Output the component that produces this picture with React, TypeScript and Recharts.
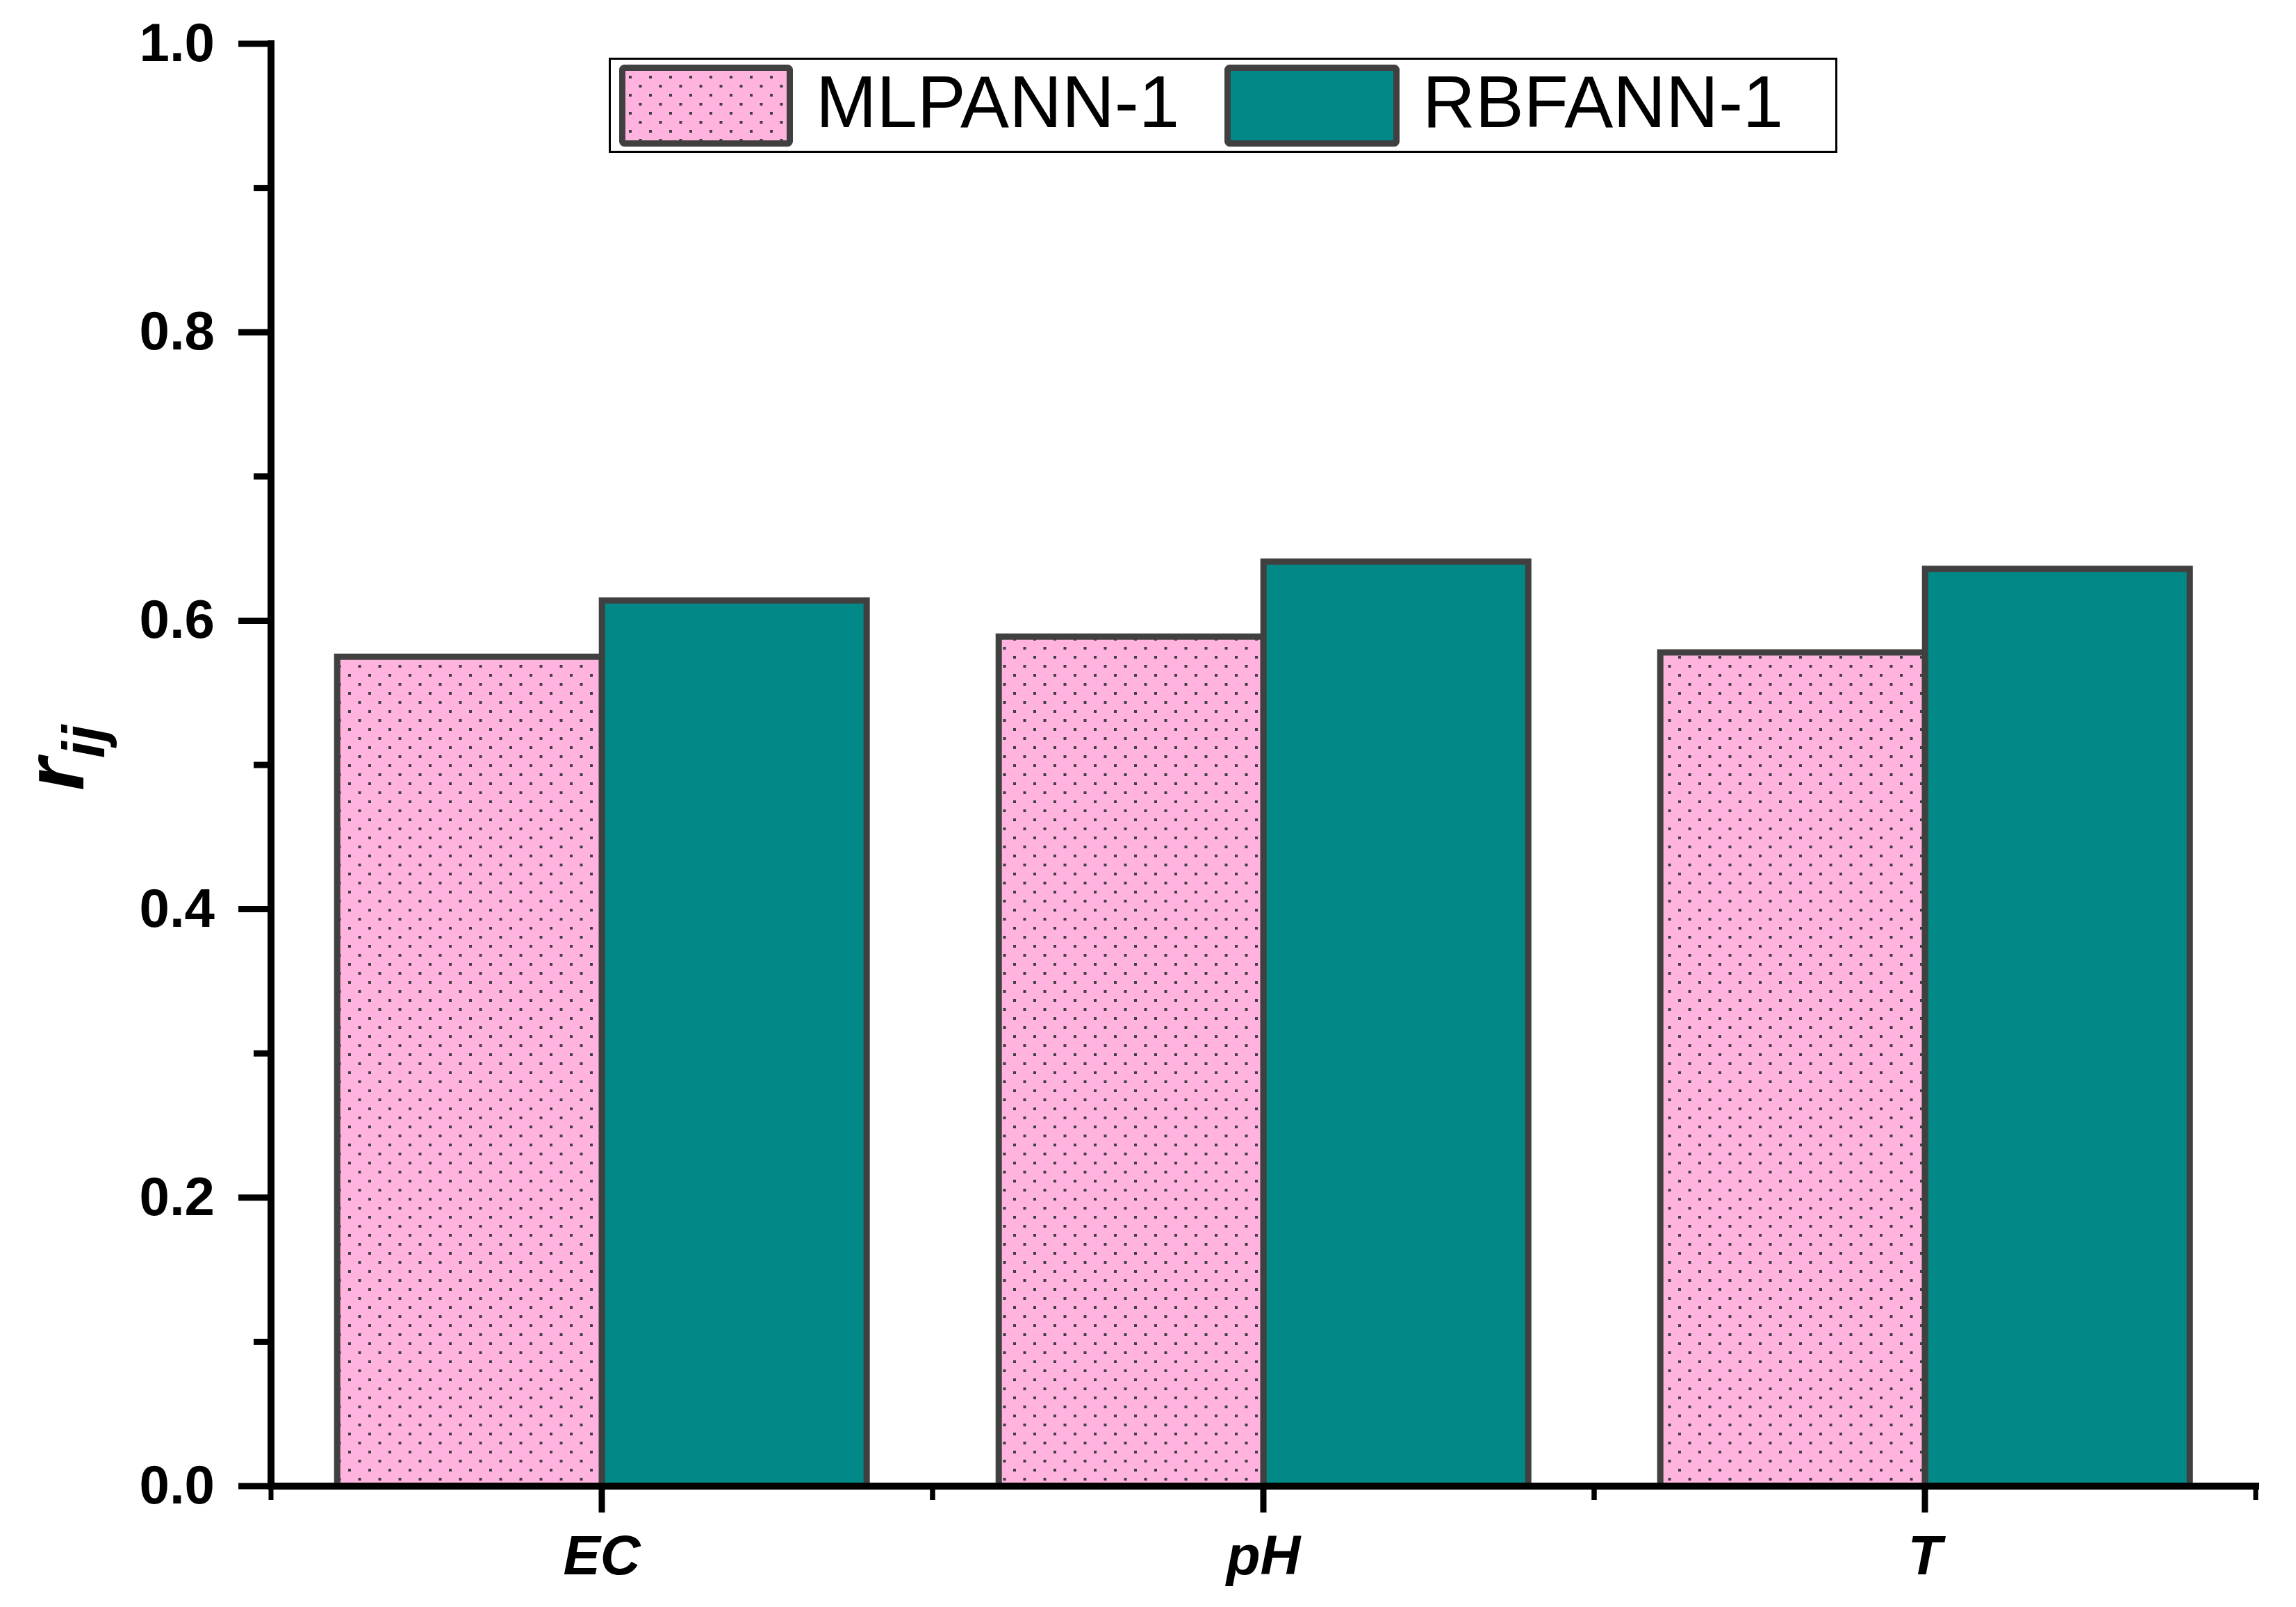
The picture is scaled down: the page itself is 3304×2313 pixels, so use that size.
import React from 'react';
import { BarChart, Bar, XAxis, YAxis, Legend } from 'recharts';

// values
const categories = ['EC', 'pH', 'T'];
const mlpann1 = [0.575, 0.589, 0.578];
const rbfann1 = [0.614, 0.641, 0.636];
const seriesNames = ['MLPANN-1', 'RBFANN-1'];
const yTicks = [0, 0.1, 0.2, 0.3, 0.4, 0.5, 0.6, 0.7, 0.8, 0.9, 1.0];

const data = categories.map((name, i) => ({ name, mlp: mlpann1[i], rbf: rbfann1[i] }));

const FONT = '"Liberation Sans", Arial, Helvetica, sans-serif';
const PINK = '#ffb3de';
const TEAL = '#028886';
const EDGE = '#404040';

const DotPattern = ({ id }: { id: string }) => (
  <pattern id={id} width={29} height={26} patternUnits="userSpaceOnUse">
    <rect width={29} height={26} fill={PINK} />
    <rect x={0} y={0} width={4} height={4} fill={EDGE} />
    <rect x={14.5} y={13} width={4} height={4} fill={EDGE} />
  </pattern>
);

const YTick = (props: any) => {
  const { x, y, payload } = props;
  const major = Math.round(payload.value * 10) % 2 === 0;
  const len = major ? 47 : 25;
  return (
    <g>
      <line x1={x - len} x2={x} y1={y} y2={y} stroke="#000" strokeWidth={9} />
      {major && (
        <text
          x={x - len - 34}
          y={y}
          dy="0.32em"
          textAnchor="end"
          fontSize={78}
          fontWeight="bold"
          fontFamily={FONT}
          fill="#000"
        >
          {payload.value.toFixed(1)}
        </text>
      )}
    </g>
  );
};

const XTick = (props: any) => {
  const { x, y, payload } = props;
  const half = payload.offset || 476;
  return (
    <g>
      <line x1={x} x2={x} y1={y} y2={y + 38} stroke="#000" strokeWidth={9} />
      <line x1={x - half} x2={x - half} y1={y} y2={y + 20} stroke="#000" strokeWidth={7} />
      <line x1={x + half} x2={x + half} y1={y} y2={y + 20} stroke="#000" strokeWidth={7} />
      <text
        x={x}
        y={y + 127}
        textAnchor="middle"
        fontSize={80}
        fontWeight="bold"
        fontStyle="italic"
        fontFamily={FONT}
        fill="#000"
      >
        {payload.value}
      </text>
    </g>
  );
};

const YLabel = () => (
  <text
    x={112}
    y={1130}
    transform="rotate(-90, 112, 1130)"
    textAnchor="start"
    fontFamily={FONT}
    fontWeight="bold"
    fontStyle="italic"
    fill="#000"
  >
    <tspan fontSize={120}>r</tspan>
    <tspan fontSize={86} dy={30}>ij</tspan>
  </text>
);

const LegendBox = () => (
  <svg width={1768} height={137} style={{ display: 'block' }}>
    <defs>
      <DotPattern id="mlpDotsLegend" />
    </defs>
    <rect x={1.5} y={1.5} width={1765} height={134} fill="#fff" stroke="#000" strokeWidth={3} />
    <rect x={19.5} y={14.5} width={241} height={109} rx={3} fill="url(#mlpDotsLegend)" stroke={EDGE} strokeWidth={9} />
    <text x={298} y={100} fontSize={105} fontFamily={FONT} fill="#000">{seriesNames[0]}</text>
    <rect x={890.5} y={14.5} width={243} height={109} rx={3} fill={TEAL} stroke={EDGE} strokeWidth={9} />
    <text x={1171} y={100} fontSize={105} fontFamily={FONT} fill="#000">{seriesNames[1]}</text>
  </svg>
);

const axisLineStyle = { stroke: '#000', strokeWidth: 10, strokeLinecap: 'square' as const };

export default function App() {
  return (
    <div style={{ width: 3288, height: 2297, background: '#fff' }}>
      <BarChart
        width={3288}
        height={2297}
        data={data}
        margin={{ top: 55, right: 50, bottom: 0, left: 0 }}
        barGap={0}
        barCategoryGap="10%"
      >
        <defs>
          <DotPattern id="mlpDots" />
        </defs>
        <XAxis
          dataKey="name"
          height={166}
          interval={0}
          tickSize={0}
          tickMargin={0}
          tickLine={false}
          axisLine={axisLineStyle}
          tick={<XTick />}
        />
        <XAxis xAxisId="top" dataKey="name" orientation="top" height={0} tick={false} tickLine={false} axisLine={axisLineStyle} />
        <YAxis
          domain={[0, 1]}
          ticks={yTicks}
          interval={0}
          width={382}
          tickSize={0}
          tickMargin={0}
          tickLine={false}
          axisLine={axisLineStyle}
          tick={<YTick />}
          label={{ content: () => <YLabel /> }}
        />
        <YAxis yAxisId="right" orientation="right" domain={[0, 1]} width={0} tick={false} tickLine={false} axisLine={axisLineStyle} />
        <Legend
          layout="horizontal"
          verticalAlign="middle"
          align="center"
          wrapperStyle={{ left: 868, top: 75, width: 1768, height: 137 }}
          content={() => <LegendBox />}
        />
        <Bar dataKey="mlp" name={seriesNames[0]} fill="url(#mlpDots)" stroke={EDGE} strokeWidth={9} isAnimationActive={false} />
        <Bar dataKey="rbf" name={seriesNames[1]} fill={TEAL} stroke={EDGE} strokeWidth={9} isAnimationActive={false} />
      </BarChart>
    </div>
  );
}
